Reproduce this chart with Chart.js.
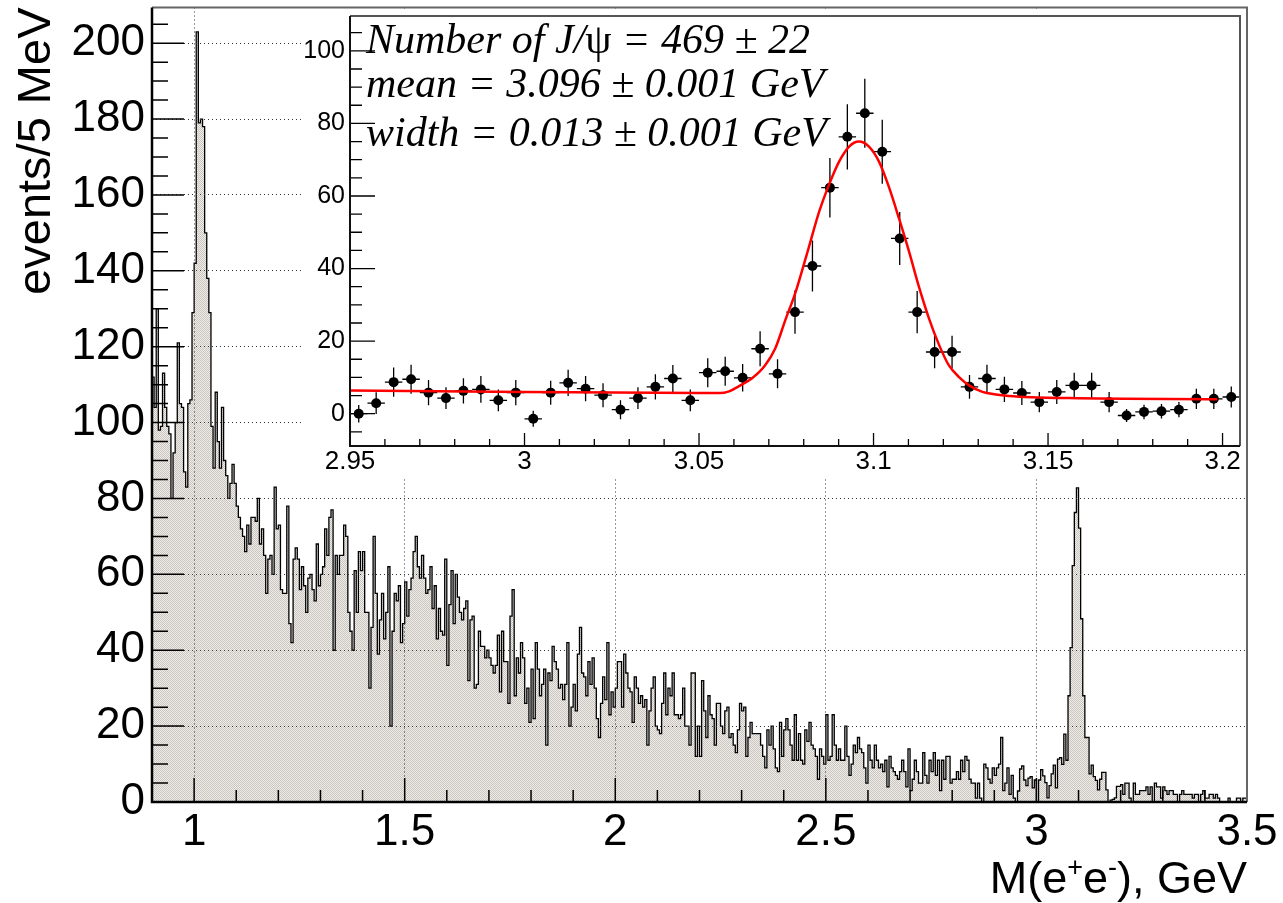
<!DOCTYPE html>
<html><head><meta charset="utf-8">
<script src="https://cdn.jsdelivr.net/npm/chart.js@4.4.1/dist/chart.umd.min.js"></script>
<style>
html,body{margin:0;padding:0;background:#fff;}
#wrap{position:relative;width:1283px;height:903px;overflow:hidden;background:#fff;}
#main{position:absolute;left:0;top:0;width:1283px;height:903px;}
#inset{position:absolute;left:302px;top:9px;width:944px;height:469px;background:#fff;}
</style></head><body>
<div id="wrap"><canvas id="main" width="1283" height="903"></canvas><canvas id="inset" width="944" height="469"></canvas></div>
<script>
// ---------- main histogram: events per 5 MeV bin, 0.9 .. 3.5 GeV ----------
const binStart = 0.9, binWidth = 0.005;
const histA = [112,104,130,98,99,113,104,99,97,80,92,100,121,105,104,87,83,105,106,129,142,203,179,180,178,150,138,129,99,88,108,95,88,104,90,86,80,84,89,84,78,75,72,70,66,73,68,75];
const histB = [75,74,80,68,72,65,55,64,65,60,83,72,73,56,55,55,78,47,42,64,67,64,56,62,57,50,59,60,56,53,68,57,60,62,72,65,75,77,40,65,60,65,65,73,70,50,45,40,61,50,66,61,66,50,50,30,46,70,55,39,48,55,43,50,62,20,45,55,53,57,42,47];
const histC = [58,49,56,59,66,70,62,59,65,59,55,56,62,51,57,43,51,45,44,64,36,52,61,47,60,54,50,48,51,53,32,48,49,30,31,45,41,41,38,40,38,36,34,36,44,29,45,37,37,26,49,56,28,38,34,42,38,26,30,21,35,22,42,35,28,31,35];
const histD = [15,34,32,41,37,35,30,31,27,31,42,20,25,31,24,39,46,34,33,28,37,31,38,30,22,17,26,33,27,42,23,29,25,30,37,37,25,39,34,30,29,21,33,30,26,28,25,27,15,24,30,33,20,19,18,26,34,23,30,28,34,23,23,22,23,30];
const histE = [20,20,15,34,34,12,20,12,32,24,17,28,23,22,15,26,26,20,18,24,25,17,18,15,13,19,26,24,25,12,17,21,18,18,18,18,15,12,9,19,15,20,14,9,8,21,12,19,22,19,15,11,23,11,18,11,10,19,16,21,15,14,12,6,14,12,10];
const histF = [23,11,12,23,15,11,14,11,11,20,12,7,10,15,13,17,14,13,9,5,15,11,9,15,11,9,10,8,11,4,12,9,8,7,6,8,11,8,4,14,3,6,11,8,5,5,13,7,5,11,8,13,7,11,3,11,6,12,12,5,6];
const histG = [6,8,6,11,8,12,11,6,5,5,1,5,1,0,10,9,6,5,9,7,9,10,17,3,5,9,2,7,1];
const histI = [2,5,5,1,0,5,2,2,3,3,3,4,2,4,0,5,4,4,1,4,3,2,3,3,2,2,0,2,3,2,2,2,2,1,2,2,0,2,3,1,1,2,2,1,2,1,0,0,0,0,1,0,0,0,1,1,0,1,1];

// ---------- inset: 2.95 .. 3.205 GeV, 5 MeV bins ----------
const insetBinStart = 2.95, insetBinWidth = 0.005;
const insetY = [0,2.9,8.7,9.5,5.8,4.3,6.3,6.7,3.7,5.8,-1.4,5.8,8.5,6.9,5.1,1.1,4.3,7.4,9.7,3.7,11.3,11.7,9.9,17.9,11,28,40.7,62.3,76.3,82.8,72.2,48.3,28,17,17,7.4,9.7,6.7,5.7,3.2,6,7.8,7.8,3.2,-0.5,0.5,0.7,1.1,4.1,4.1,4.6];
const insetErr = [2.4,3,4,4,3.5,3,3.5,3.7,3,3.5,2.2,3.3,3.6,3.5,3.3,2.6,3,3.5,3.7,3,4,4,3.8,4.8,4,6,7,8.2,9,9.5,8.8,7.3,5.8,4.5,4.5,3.3,3.8,3.5,3.3,2.8,3.3,3.5,3.5,2.8,1.8,2,2,2.1,2.8,2.8,2.9];
const fitX = [2.95,3.0,3.05,3.056,3.0584,3.0622,3.0651,3.0689,3.0718,3.0748,3.0777,3.0815,3.0844,3.0872,3.0901,3.093,3.0958,3.0987,3.1016,3.1044,3.1073,3.1102,3.113,3.1159,3.1188,3.1216,3.1245,3.1274,3.1312,3.135,3.1388,3.156,3.1985];
const fitY = [6.4,6.0,5.7,5.7,6.1,8.0,9.7,13.3,17.9,26.0,33.6,46,55.6,63,69.4,73.6,75,73.6,69.4,62.5,53.8,44.6,35,26.2,18.9,13.3,10.1,7.8,6.0,5.3,4.9,4.3,4.0];

// ---------- ticks / labels ----------
const xTickVals = [1,1.5,2,2.5,3,3.5];
const xTickLabels = ['1','1.5','2','2.5','3','3.5'];
const yTickVals = [0,20,40,60,80,100,120,140,160,180,200];
const yTickLabels = ['0','20','40','60','80','100','120','140','160','180','200'];
const insetXTickVals = [2.95,3,3.05,3.1,3.15,3.2];
const insetXTickLabels = ['2.95','3','3.05','3.1','3.15','3.2'];
const insetYTickVals = [0,20,40,60,80,100];
const insetYTickLabels = ['0','20','40','60','80','100'];
// each line: list of [text, upright?]
const insetText = [
  [['Number of J/', false], ['\u03C8', true], [' = 469 \u00B1 22', false]],
  [['mean = 3.096 \u00B1 0.001 GeV', false]],
  [['width = 0.013 \u00B1 0.001 GeV', false]]
];
const yTitle = 'events/5 MeV';

const SANS = '"Liberation Sans", Arial, Helvetica, sans-serif';
const SERIF = '"Liberation Serif", "Times New Roman", serif';

// assemble histogram
const histH = insetY.map(v => Math.max(0, v));
const counts = [].concat(histA, histB, histC, histD, histE, histF, histG, histH, histI);
const histPoints = counts.map((v, i) => ({x: binStart + i * binWidth, y: v}));
histPoints.push({x: binStart + counts.length * binWidth, y: counts[counts.length - 1]});

// fill pattern (ROOT dotted fill)
const pc = document.createElement('canvas'); pc.width = 2; pc.height = 2;
const pctx = pc.getContext('2d');
pctx.fillStyle = '#f0ece8'; pctx.fillRect(0, 0, 2, 2);
pctx.fillStyle = '#c8c4bf'; pctx.fillRect(0, 0, 1, 1); pctx.fillRect(1, 1, 1, 1);
const mainCanvas = document.getElementById('main');
const pattern = mainCanvas.getContext('2d').createPattern(pc, 'repeat');

const mainDecor = {
  id: 'mainDecor',
  afterDraw(chart) {
    const {ctx, chartArea: a, scales: {x, y}} = chart;
    ctx.save();
    ctx.strokeStyle = '#000'; ctx.lineWidth = 1.5;
    ctx.beginPath();
    for (let k = 9; k <= 35; k++) {
      const px = x.getPixelForValue(k / 10);
      const len = (k % 5 === 0) ? 24 : 12;
      ctx.moveTo(px, a.bottom); ctx.lineTo(px, a.bottom - len);
    }
    for (let k = 0; k <= 41; k++) {
      const py = y.getPixelForValue(k * 5);
      const len = (k % 4 === 0) ? 32 : 16;
      ctx.moveTo(a.left, py); ctx.lineTo(a.left + len, py);
    }
    ctx.stroke();
    ctx.lineWidth = 2; ctx.strokeStyle = '#666';
    ctx.beginPath(); ctx.moveTo(a.left, a.top); ctx.lineTo(a.right, a.top); ctx.lineTo(a.right, a.bottom); ctx.stroke();
    ctx.strokeStyle = '#000'; ctx.lineWidth = 2.5;
    ctx.beginPath(); ctx.moveTo(a.left, a.top); ctx.lineTo(a.left, a.bottom); ctx.lineTo(a.right, a.bottom); ctx.stroke();
    // y title
    ctx.fillStyle = '#000';
    ctx.save();
    ctx.translate(50, a.top);
    ctx.rotate(-Math.PI / 2);
    ctx.font = '47px ' + SANS; ctx.textAlign = 'right'; ctx.textBaseline = 'alphabetic';
    ctx.fillText(yTitle, 0, 0);
    ctx.restore();
    // x title with superscripts
    const big = '45px ' + SANS, small = '27px ' + SANS;
    const parts = [['M(e', big, 0], ['+', small, -17], ['e', big, 0], ['-', small, -17], ['), GeV', big, 0]];
    let total = 0;
    parts.forEach(p => { ctx.font = p[1]; p.w = ctx.measureText(p[0]).width; total += p.w; });
    let xx = a.right - total;
    ctx.textAlign = 'left'; ctx.textBaseline = 'alphabetic';
    parts.forEach(p => { ctx.font = p[1]; ctx.fillText(p[0], xx, 893 + p[2]); xx += p.w; });
    ctx.restore();
  }
};

new Chart(mainCanvas, {
  type: 'line',
  data: { datasets: [{
    data: histPoints, stepped: 'before', fill: 'origin',
    backgroundColor: pattern, borderColor: '#000', borderWidth: 1.3,
    pointRadius: 0, tension: 0
  }]},
  options: {
    responsive: false, animation: false, devicePixelRatio: 1,
    layout: { padding: { top: 7.5, right: 36, left: 0, bottom: 0 } },
    plugins: { legend: { display: false }, tooltip: { enabled: false } },
    scales: {
      x: {
        type: 'linear', min: 0.9, max: 3.5,
        afterBuildTicks: s => { s.ticks = xTickVals.map(v => ({value: v})); },
        afterFit: s => { s.height = 101; },
        ticks: { callback: (v, i) => xTickLabels[i], font: { family: SANS, size: 44 }, color: '#000', padding: 4, maxRotation: 0, autoSkip: false },
        grid: { color: '#333', lineWidth: 1, drawTicks: false, z: 1 },
        border: { display: false, dash: [1, 3] }
      },
      y: {
        type: 'linear', min: 0, max: 209.4,
        afterBuildTicks: s => { s.ticks = yTickVals.map(v => ({value: v})); },
        afterFit: s => { s.width = 152; },
        ticks: { callback: (v, i) => yTickLabels[i], font: { family: SANS, size: 44, lineHeight: 0.01 }, color: '#000', padding: 7, autoSkip: false },
        grid: { color: '#333', lineWidth: 1, drawTicks: false, z: 1 },
        border: { display: false, dash: [1, 3] }
      }
    }
  },
  plugins: [mainDecor]
});

// ---------- inset ----------
const insetDecor = {
  id: 'insetDecor',
  beforeDatasetsDraw(chart) {
    const {ctx, scales: {x, y}} = chart;
    ctx.save(); ctx.strokeStyle = '#000'; ctx.lineWidth = 1.3;
    ctx.beginPath();
    insetY.forEach((v, i) => {
      const c = insetBinStart + (i + 0.5) * insetBinWidth;
      const px = x.getPixelForValue(c), py = y.getPixelForValue(v);
      ctx.moveTo(x.getPixelForValue(c - insetBinWidth / 2), py);
      ctx.lineTo(x.getPixelForValue(c + insetBinWidth / 2), py);
      ctx.moveTo(px, y.getPixelForValue(v - insetErr[i]));
      ctx.lineTo(px, y.getPixelForValue(v + insetErr[i]));
    });
    ctx.stroke();
    ctx.restore();
  },
  afterDraw(chart) {
    const {ctx, chartArea: a, scales: {x, y}} = chart;
    ctx.save();
    ctx.strokeStyle = '#000'; ctx.lineWidth = 1.3;
    ctx.beginPath();
    for (let k = 295; k <= 320; k++) {
      const px = x.getPixelForValue(k / 100);
      const len = (k % 5 === 0) ? 13 : 7;
      ctx.moveTo(px, a.bottom); ctx.lineTo(px, a.bottom - len);
    }
    for (let k = -1; k <= 21; k++) {
      const py = y.getPixelForValue(k * 5);
      const len = (k % 4 === 0) ? 25 : 12;
      ctx.moveTo(a.left, py); ctx.lineTo(a.left + len, py);
    }
    ctx.stroke();
    ctx.lineWidth = 2; ctx.strokeStyle = '#555';
    ctx.beginPath(); ctx.moveTo(a.left, a.top); ctx.lineTo(a.right, a.top); ctx.lineTo(a.right, a.bottom); ctx.stroke();
    ctx.strokeStyle = '#111';
    ctx.beginPath(); ctx.moveTo(a.left, a.top); ctx.lineTo(a.left, a.bottom); ctx.lineTo(a.right, a.bottom); ctx.stroke();
    ctx.fillStyle = '#000';
    ctx.textAlign = 'left'; ctx.textBaseline = 'alphabetic';
    const base = [44, 88, 137];
    insetText.forEach((line, i) => {
      let xx = 64;
      line.forEach(([t, upright]) => {
        ctx.font = (upright ? '' : 'italic ') + '42px ' + SERIF;
        ctx.fillText(t, xx, base[i]);
        xx += ctx.measureText(t).width;
      });
    });
    ctx.restore();
  }
};

new Chart(document.getElementById('inset'), {
  type: 'line',
  data: { datasets: [
    { data: fitX.map((v, i) => ({x: v, y: fitY[i]})), borderColor: '#ff0000', borderWidth: 2.5, pointRadius: 0, cubicInterpolationMode: 'monotone', fill: false },
    { data: insetY.map((v, i) => ({x: insetBinStart + (i + 0.5) * insetBinWidth, y: v})), showLine: false, pointRadius: 5, pointBackgroundColor: '#000', pointBorderWidth: 0, borderColor: '#000' }
  ]},
  options: {
    responsive: false, animation: false, devicePixelRatio: 1,
    layout: { padding: { top: 7, right: 6, left: 0, bottom: 0 } },
    plugins: { legend: { display: false }, tooltip: { enabled: false } },
    scales: {
      x: {
        type: 'linear', min: 2.95, max: 3.205,
        afterBuildTicks: s => { s.ticks = insetXTickVals.map(v => ({value: v})); },
        afterFit: s => { s.height = 32; },
        ticks: { callback: (v, i) => insetXTickLabels[i], font: { family: SANS, size: 26 }, color: '#000', padding: 0, maxRotation: 0, autoSkip: false },
        grid: { display: false, drawTicks: false },
        border: { display: false }
      },
      y: {
        type: 'linear', min: -8.9, max: 109.6,
        afterBuildTicks: s => { s.ticks = insetYTickVals.map(v => ({value: v})); },
        afterFit: s => { s.width = 48; },
        ticks: { callback: (v, i) => insetYTickLabels[i], font: { family: SANS, size: 25, lineHeight: 0.01 }, color: '#000', padding: 5, autoSkip: false },
        grid: { display: false, drawTicks: false },
        border: { display: false }
      }
    }
  },
  plugins: [insetDecor]
});
</script></body></html>
